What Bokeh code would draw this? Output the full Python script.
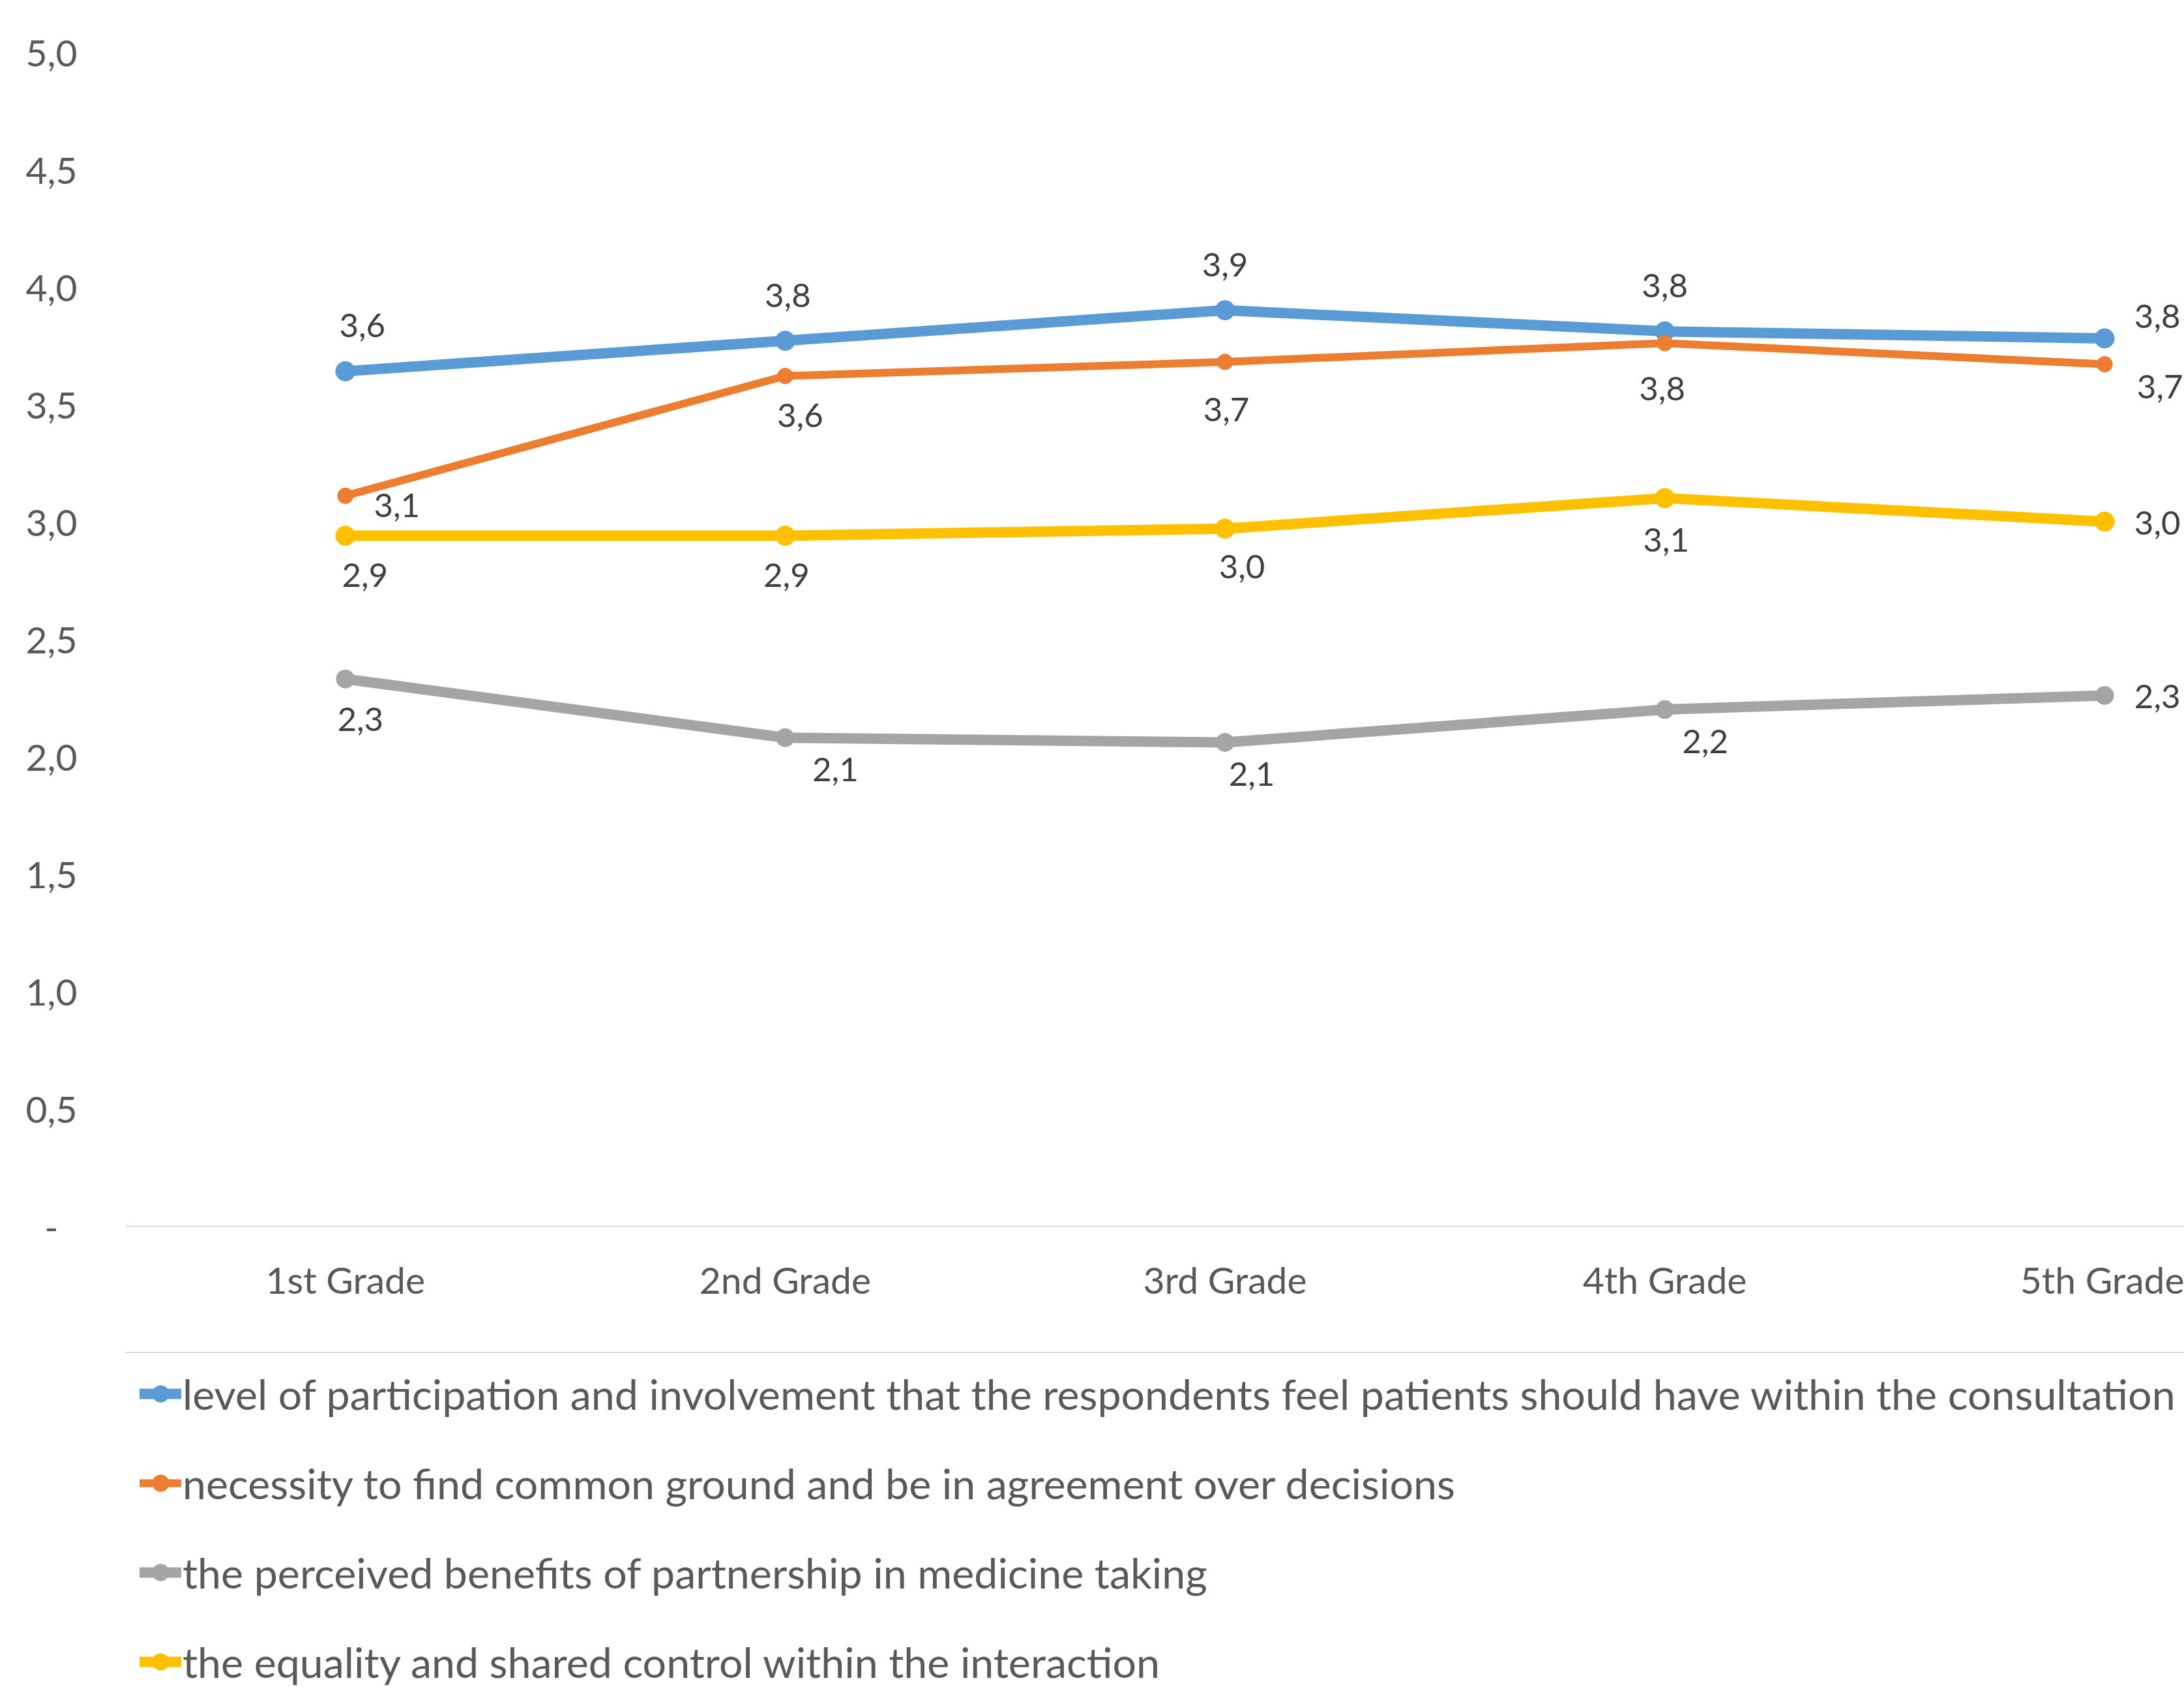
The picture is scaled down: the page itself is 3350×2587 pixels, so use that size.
import numpy as np
from bokeh.plotting import figure
from bokeh.models import (ColumnDataSource, FixedTicker, CustomJSTickFormatter, Legend,
                          LegendItem, Range1d, Span)
from bokeh.layouts import column
from bokeh.embed import file_html
from bokeh.resources import INLINE
from bokeh.core.properties import value

# ---------------- data ----------------
grades = ["1st Grade", "2nd Grade", "3rd Grade", "4th Grade", "5th Grade"]
participation = [3.64, 3.77, 3.90, 3.81, 3.78]
common_ground = [3.11, 3.62, 3.68, 3.76, 3.67]
benefits = [2.33, 2.08, 2.06, 2.20, 2.26]
equality = [2.94, 2.94, 2.97, 3.10, 3.00]
series_names = [
    "level of participation and involvement that the respondents feel patients should have within the consultation",
    "necessity to find common ground and be in agreement over decisions",
    "the perceived benefits of partnership in medicine taking",
    "the equality and shared control within the interaction",
]
y_ticks = [0.0, 0.5, 1.0, 1.5, 2.0, 2.5, 3.0, 3.5, 4.0, 4.5, 5.0]

# ---------------- styles ----------------
FONT = "Lato"
styles = [
    dict(color="#5B9BD5", lw=16, ms=30,
         dx=[26, 4, 0, 0, 81], dy=[-70, -70, -70, -70, -34]),
    dict(color="#ED7D31", lw=12, ms=24,
         dx=[79, 23, 2, -4, 85], dy=[15, 60, 73, 70, 34]),
    dict(color="#A5A5A5", lw=16, ms=28,
         dx=[23, 77, 41, 62, 81], dy=[62, 49, 49, 49, 2]),
    dict(color="#FFC000", lw=16, ms=30,
         dx=[30, 2, 26, 2, 81], dy=[60, 60, 58, 64, 2]),
]
series_vals = [participation, common_ground, benefits, equality]

W = 3350
H_TOP = 2072
H_LEG = 2587 - H_TOP
LEFT, TOP, BOTTOM = 192, 79, 192
CAT_PX = 674.6
frame_w = W - LEFT
x_idx = list(np.arange(len(grades)))

p = figure(width=W, height=H_TOP, output_backend="svg", toolbar_location=None,
           x_range=Range1d(-0.5, -0.5 + frame_w / CAT_PX), y_range=Range1d(0, 5),
           min_border_left=LEFT, min_border_right=0, min_border_top=TOP,
           min_border_bottom=BOTTOM)
p.outline_line_color = None
p.xgrid.visible = False
p.ygrid.visible = False
p.background_fill_color = "white"
p.border_fill_color = "white"

# y axis
p.yaxis.ticker = FixedTicker(ticks=y_ticks)
p.yaxis.formatter = CustomJSTickFormatter(
    code="return tick == 0 ? '-\u00a0\u00a0' : tick.toFixed(1).replace('.', ',');")
p.yaxis.axis_line_color = None
p.yaxis.major_tick_line_color = None
p.yaxis.minor_tick_line_color = None
p.yaxis.major_label_standoff = 68
p.yaxis.major_label_text_font = FONT
p.yaxis.major_label_text_font_size = "57px"
p.yaxis.major_label_text_color = "#595959"

# x axis
p.xaxis.ticker = FixedTicker(ticks=x_idx)
p.xaxis.major_label_overrides = {i: g for i, g in enumerate(grades)}
p.xaxis.axis_line_color = "#D9D9D9"
p.xaxis.axis_line_width = 2
p.xaxis.major_tick_line_color = None
p.xaxis.minor_tick_line_color = None
p.xaxis.major_label_standoff = 41
p.xaxis.major_label_text_font = FONT
p.xaxis.major_label_text_font_size = "57px"
p.xaxis.major_label_text_color = "#595959"

sources = []
for vals, st in zip(series_vals, styles):
    src = ColumnDataSource(dict(
        x=x_idx, y=vals,
        lab=[f"{v:.1f}".replace(".", ",") for v in vals],
        dx=st["dx"], dy=st["dy"]))
    sources.append(src)
    p.line("x", "y", source=src, line_color=st["color"], line_width=st["lw"],
           line_join="round", line_cap="round")
    p.scatter("x", "y", source=src, marker="circle", size=st["ms"],
              fill_color=st["color"], line_color=st["color"])

for src in sources:
    p.text("x", "y", text="lab", source=src, x_offset="dx", y_offset="dy",
           text_align="center", text_baseline="middle",
           text_font=value(FONT), text_font_size="51px", text_color="#404040")

# ---------------- legend panel ----------------
p2 = figure(width=W, height=H_LEG, output_backend="svg", toolbar_location=None,
            x_range=Range1d(0, 1), y_range=Range1d(0, 1),
            x_axis_location=None, y_axis_location=None, min_border=0)
p2.outline_line_color = None
p2.xgrid.visible = False
p2.ygrid.visible = False
p2.add_layout(Span(location=1 - 1.5 / H_LEG, dimension="width",
                   line_color="#D9D9D9", line_width=2))

items = []
for name, src, st in zip(series_names, sources, styles):
    l = p2.line("x", "y", source=src, line_color=st["color"], line_width=st["lw"],
                line_cap="round")
    s = p2.scatter("x", "y", source=src, marker="circle", size=st["ms"],
                   fill_color=st["color"], line_color=st["color"])
    items.append(LegendItem(label=name, renderers=[l, s]))

legend = Legend(items=items, location=(214 - LEFT, 0),
                orientation="vertical", margin=0, padding=0,
                glyph_width=64, glyph_height=70, label_height=70,
                label_standoff=2, spacing=59,
                label_text_font=FONT, label_text_font_size="64.5px",
                label_text_color="#595959",
                background_fill_alpha=0, border_line_color=None)
p2.add_layout(legend)

layout = column(p, p2, spacing=0)
open("out.html", "w").write(file_html(layout, INLINE))
